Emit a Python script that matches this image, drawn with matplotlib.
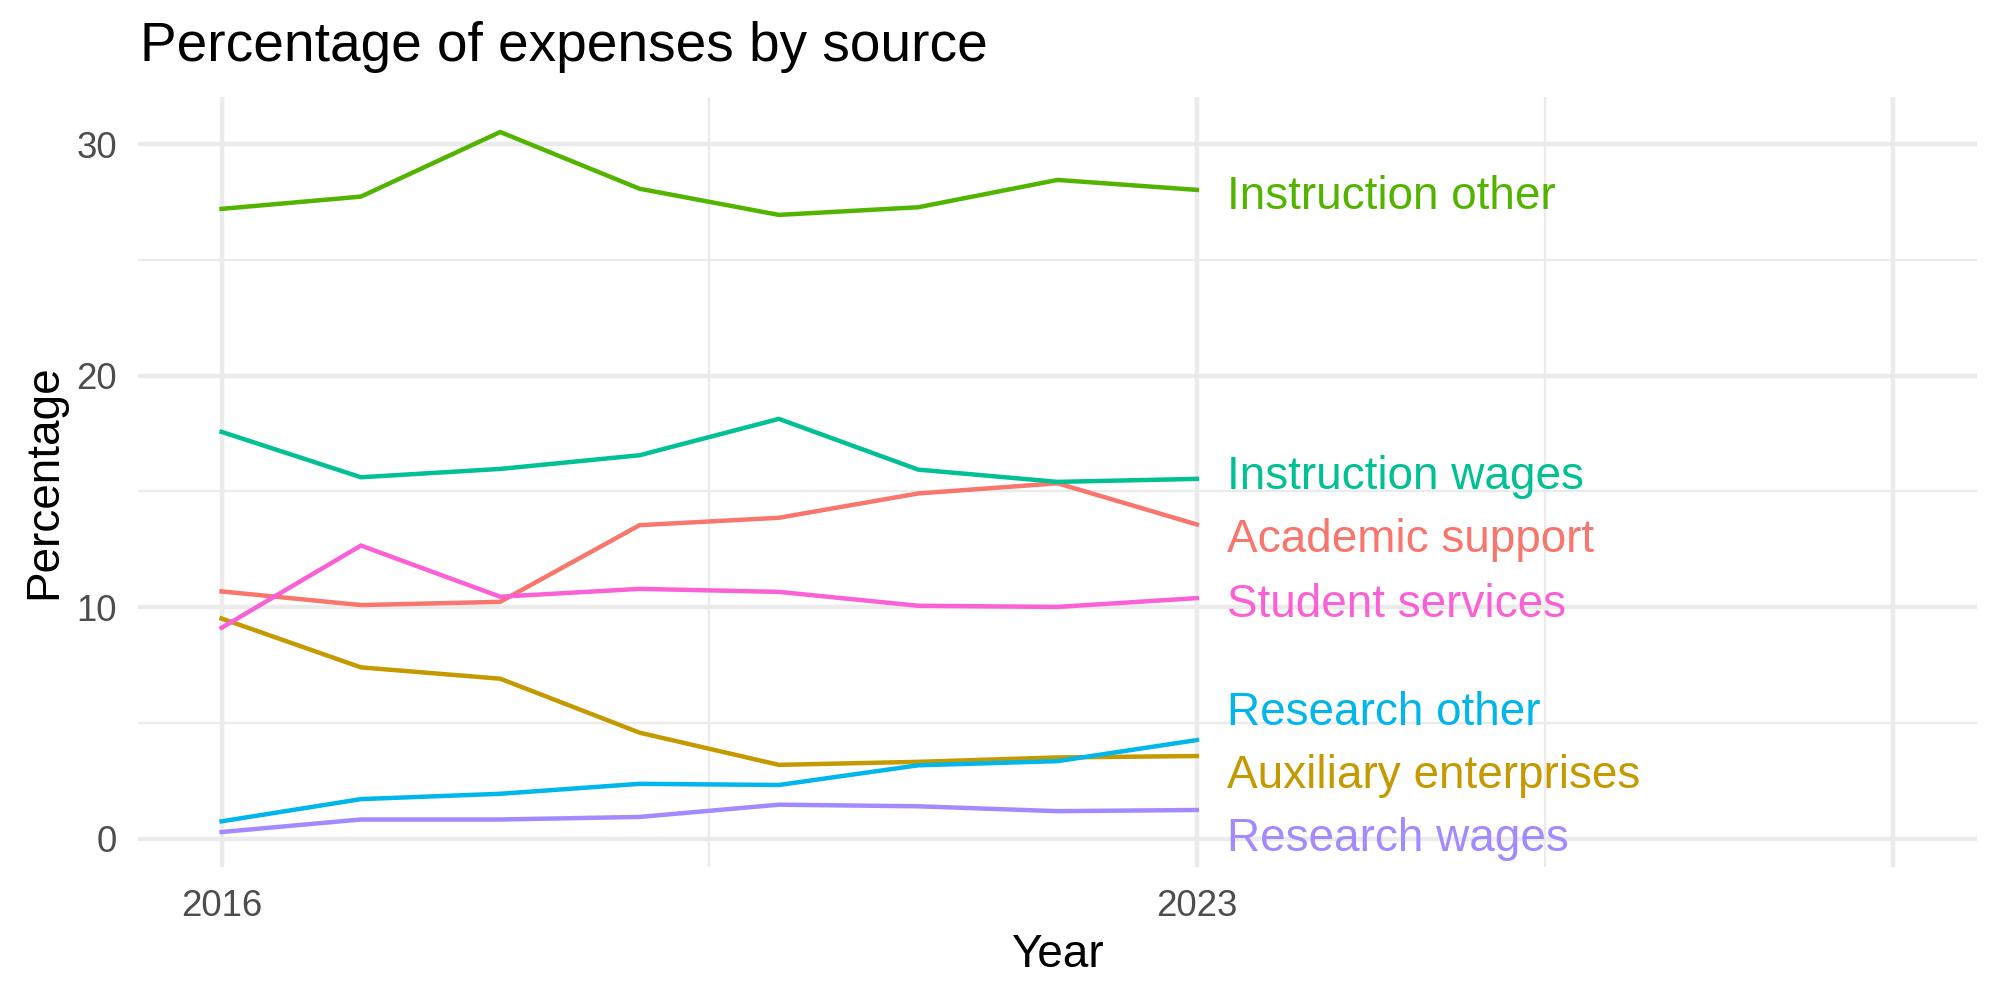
import numpy as np
import matplotlib.pyplot as plt

plt.rcParams['font.family'] = ['Liberation Sans', 'DejaVu Sans']

# Data
years = [2016, 2017, 2018, 2019, 2020, 2021, 2022, 2023]
academic_support = [10.68, 10.09, 10.23, 13.54, 13.86, 14.91, 15.35, 13.57]
auxiliary_enterprises = [9.51, 7.40, 6.91, 4.58, 3.19, 3.32, 3.51, 3.57]
instruction_other = [27.20, 27.73, 30.52, 28.07, 26.94, 27.27, 28.45, 28.02]
instruction_wages = [17.57, 15.61, 15.97, 16.56, 18.13, 15.94, 15.41, 15.54]
research_other = [0.75, 1.71, 1.94, 2.37, 2.32, 3.17, 3.35, 4.26]
research_wages = [0.29, 0.83, 0.83, 0.94, 1.47, 1.40, 1.19, 1.24]
student_services = [9.11, 12.66, 10.45, 10.79, 10.66, 10.06, 10.01, 10.39]

sources = ["Academic support", "Auxiliary enterprises", "Instruction other",
           "Instruction wages", "Research other", "Research wages",
           "Student services"]
series = [academic_support, auxiliary_enterprises, instruction_other,
          instruction_wages, research_other, research_wages, student_services]
colors = ["#F8766D", "#C49A00", "#53B400", "#00C094", "#00B6EB", "#A58AFF", "#FB61D7"]

fig = plt.figure(figsize=(2000/300, 1000/300), dpi=300)
ax = fig.add_axes([138/2000, 1 - 867/1000, (1977 - 138)/2000, (867 - 97)/1000])

for name, vals, c in zip(sources, series, colors):
    ax.plot(years, vals, color=c, lw=1.07, solid_joinstyle='miter', zorder=3)

# simple label repel at the line ends
ends = [v[-1] for v in series]
order = np.argsort(ends)
gap = 2.72
pos = [ends[i] for i in order]
groups = [[k] for k in range(len(pos))]
placed = list(pos)
changed = True
while changed:
    changed = False
    for g in range(len(groups) - 1):
        a, b = groups[g], groups[g + 1]
        if placed[b[0]] - placed[a[-1]] < gap - 1e-9:
            merged = a + b
            center = np.mean([pos[k] for k in merged])
            n = len(merged)
            for j, k in enumerate(merged):
                placed[k] = center + (j - (n - 1) / 2) * gap
            groups[g:g + 2] = [merged]
            changed = True
            break
label_y = [0] * len(series)
for rank, i in enumerate(order):
    label_y[i] = placed[rank]

for name, y, c in zip(sources, label_y, colors):
    ax.text(2023.22, y - 0.3, name, color=c, fontsize=11, ha='left', va='center', zorder=4)

ax.set_xlim(2015.4, 2028.6)
ymin, ymax = 0.29, 30.52
pad = (ymax - ymin) * 0.05
ax.set_ylim(ymin - pad, ymax + pad)

ax.set_xticks([2016, 2023, 2028])
ax.set_xticklabels(["2016", "2023", ""])
ax.set_xticks([2019.5, 2025.5], minor=True)
ax.set_yticks([0, 10, 20, 30])
ax.set_yticks([5, 15, 25], minor=True)

ax.grid(True, which='major', color='#EBEBEB', lw=1.07, zorder=0)
ax.grid(True, which='minor', color='#EBEBEB', lw=0.53, zorder=0)
for s in ax.spines.values():
    s.set_visible(False)
ax.tick_params(which='both', length=0)
ax.tick_params(axis='both', labelsize=8.8, labelcolor='#4D4D4D')
ax.tick_params(axis='x', pad=5.4)
ax.tick_params(axis='y', pad=5)

ax.set_xlabel("Year", fontsize=11, labelpad=2)
ax.set_ylabel("Percentage", fontsize=11, labelpad=2.5)
fig.text(140/2000, 1 - 47/1000, "Percentage of expenses by source",
         fontsize=13.2, ha='left', va='center')

fig.savefig("out.png", dpi=300, facecolor='white')
